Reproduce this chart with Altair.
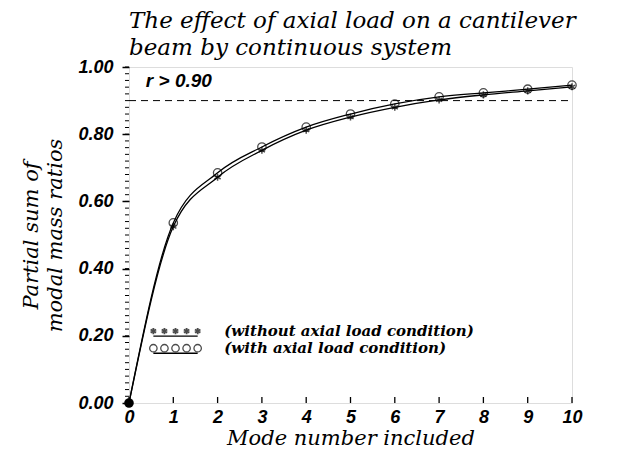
import altair as alt
import pandas as pd

modes = [0, 1, 2, 3, 4, 5, 6, 7, 8, 9, 10]
with_load = [0.0, 0.536, 0.685, 0.762, 0.821, 0.860, 0.890, 0.911, 0.923, 0.934, 0.946]
without_load = [0.0, 0.525, 0.672, 0.752, 0.812, 0.851, 0.880, 0.902, 0.917, 0.929, 0.941]

y_major = [0.0, 0.2, 0.4, 0.6, 0.8, 1.0]
y_minor = [round(i * 0.02, 2) for i in range(51)]
x_ticks = list(range(11))

threshold = 0.90
threshold_label = "r > 0.90"

legend_x = [0.55, 0.8, 1.05, 1.3, 1.55]
legend_star_y = 0.214
legend_circle_y = 0.163
legend_labels = ["(without axial load condition)", "(with axial load condition)"]
legend_text_x = 2.15

title_lines = ["The effect of axial load on a cantilever", "beam by continuous system"]
y_title = ["Partial sum of", "modal mass ratios"]
x_title = "Mode number included"

W, H = 443, 336
SERIF = "DejaVu Serif"
SANS = "Liberation Sans"
ASTERISK = "M0,-1L0,1M-0.87,-0.5L0.87,0.5M-0.87,0.5L0.87,-0.5"

df_with = pd.DataFrame({"x": modes, "y": with_load})
df_without = pd.DataFrame({"x": modes, "y": without_load})

xs = alt.Scale(domain=[0, 10], nice=False)
ys = alt.Scale(domain=[0, 1], nice=False)

x_axis = alt.Axis(values=x_ticks, ticks=False, domain=False, grid=False, labelPadding=5,
                  labelFont=SANS, labelFontStyle="italic", labelFontWeight="bold",
                  labelFontSize=18, labelColor="black", title=x_title, titleFont=SERIF,
                  titleFontStyle="italic", titleFontWeight="normal", titleFontSize=21,
                  titleColor="black", titlePadding=1, labelFlush=False)
y_axis = alt.Axis(values=y_major, format=".2f", tickSize=7, tickColor="black", tickWidth=1.5,
                  domain=False, grid=False, labelPadding=9, labelFont=SANS,
                  labelFontStyle="italic", labelFontWeight="bold", labelFontSize=18,
                  labelColor="black", title=y_title, titleFont=SERIF, titleFontStyle="italic",
                  titleFontWeight="normal", titleFontSize=21, titleColor="black",
                  titlePadding=12, titleLineHeight=24, labelFlush=False)

X = alt.X("x:Q", scale=xs, axis=x_axis)
Y = alt.Y("y:Q", scale=ys, axis=y_axis)

line_with = alt.Chart(df_with).mark_line(interpolate="monotone", color="black", strokeWidth=1.3).encode(x=X, y=Y)
line_without = alt.Chart(df_without).mark_line(interpolate="monotone", color="black", strokeWidth=1.3).encode(x=X, y=Y)

pts_circle = alt.Chart(df_with).mark_point(shape="circle", filled=False, color="black",
                                            size=70, strokeWidth=1.3).encode(x=X, y=Y)
pts_star = alt.Chart(df_without).mark_point(shape=ASTERISK, filled=False, color="black",
                                             size=50, strokeWidth=1.5).encode(x=X, y=Y)
origin = alt.Chart(df_with[df_with["x"] == 0]).mark_point(shape="circle", filled=True, color="black",
                                                          size=80, opacity=1).encode(x=X, y=Y)

dash_df = pd.DataFrame({"x": [0], "x1": [10], "y": [threshold]})
dash = alt.Chart(dash_df).mark_rule(color="black", strokeDash=[7, 5], strokeWidth=1).encode(
    x=X, x2="x1:Q", y=Y)

rtext_df = pd.DataFrame({"x": [0.38], "y": [0.958], "t": [threshold_label]})
rtext = alt.Chart(rtext_df).mark_text(align="left", baseline="middle", font=SANS,
                                      fontStyle="italic", fontWeight="bold", fontSize=19,
                                      color="black").encode(x=X, y=Y, text="t:N")

# x ticks pointing inward (upward from the bottom axis)
xt_df = pd.DataFrame({"x": x_ticks, "y": [0] * len(x_ticks)})
xticks = alt.Chart(xt_df).mark_tick(orient="vertical", size=6, thickness=1.3, color="black",
                                     yOffset=-3, opacity=1).encode(x=X, y=Y)

# minor y ticks pointing outward (left)
ym_df = pd.DataFrame({"x": [0] * len(y_minor), "y": y_minor})
yminor = alt.Chart(ym_df).mark_tick(orient="horizontal", size=4, thickness=1, color="black",
                                     xOffset=-2, opacity=1).encode(x=X, y=Y)

# legend
leg_star = pd.DataFrame({"x": legend_x, "y": [legend_star_y] * 5})
leg_circ = pd.DataFrame({"x": legend_x, "y": [legend_circle_y] * 5})
lstar = alt.Chart(leg_star).mark_point(shape=ASTERISK, filled=False, color="black", size=40,
                                       strokeWidth=1.9).encode(x=X, y=Y)
lcirc = alt.Chart(leg_circ).mark_point(shape="circle", filled=False, color="black", size=55,
                                       strokeWidth=1.3).encode(x=X, y=Y)
lstar_line = alt.Chart(leg_star).mark_line(color="black", strokeWidth=1.3, yOffset=5).encode(x=X, y=Y)
lcirc_line = alt.Chart(leg_circ).mark_line(color="black", strokeWidth=1.3, yOffset=5).encode(x=X, y=Y)
ltext_df = pd.DataFrame({"x": [legend_text_x] * 2, "y": [legend_star_y, legend_circle_y], "t": legend_labels})
ltext = alt.Chart(ltext_df).mark_text(align="left", baseline="middle", font=SERIF,
                                      fontStyle="italic", fontWeight="bold", fontSize=15,
                                      color="black").encode(x=X, y=Y, text="t:N")

chart = alt.layer(
    line_with, line_without, dash, pts_circle, pts_star, origin, rtext, xticks, yminor,
    lstar_line, lcirc_line, lstar, lcirc, ltext
).properties(
    width=W, height=H,
    title=alt.TitleParams(title_lines, anchor="start", font=SERIF, fontStyle="italic",
                          fontWeight="normal", fontSize=23, lineHeight=27, color="black",
                          offset=-2, frame="group"),
    autosize=alt.AutoSizeParams(type="none"),
    padding={"left": 121, "top": 59, "right": 50, "bottom": 57},
).configure_view(stroke="black", strokeWidth=1.5, clip=False).configure(background="white")

chart.save("out.html", embed_options={"renderer": "svg", "actions": False})
